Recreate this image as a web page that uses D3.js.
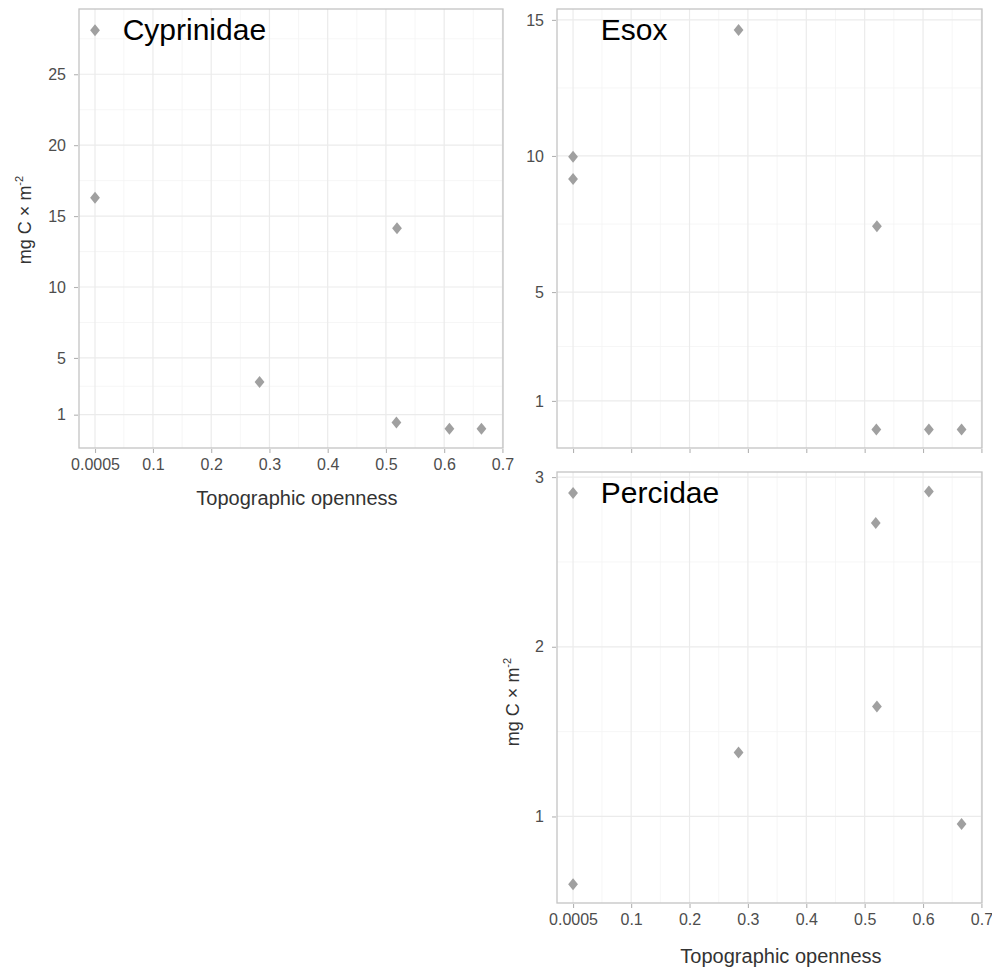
<!DOCTYPE html>
<html>
<head>
<meta charset="utf-8">
<script src="https://cdn.jsdelivr.net/npm/d3@7"></script>
<style>
  body { margin: 0; background: #fff; }
  svg { font-family: "Liberation Sans", Arial, sans-serif; }
</style>
</head>
<body>
<svg id="chart" width="992" height="971"></svg>
<script>
// data
var xTicks = [0.0005, 0.1, 0.2, 0.3, 0.4, 0.5, 0.6, 0.7];
var xMinor = [0.05, 0.15, 0.25, 0.35, 0.45, 0.55, 0.65];

var cypX = [0.0005, 0.0005, 0.283, 0.519, 0.518, 0.609, 0.664];
var cypY = [28.1, 16.3, 3.3, 14.15, 0.45, 0.0, 0.0];
var cypTicks = [1, 5, 10, 15, 20, 25];
var cypMinor = [3, 7.5, 12.5, 17.5, 22.5, 27.5];

var esoxX = [0.0005, 0.0005, 0.284, 0.521, 0.52, 0.61, 0.666];
var esoxY = [9.97, 9.15, 14.63, 7.42, -0.05, -0.05, -0.05];
var esoxTicks = [1, 5, 10, 15];
var esoxMinor = [3, 7.5, 12.5];

var percX = [0.0005, 0.0005, 0.284, 0.519, 0.521, 0.61, 0.666];
var percY = [2.906, 0.60, 1.377, 2.73, 1.648, 2.915, 0.955];
var percTicks = [1, 2, 3];
var percMinor = [1.5, 2.5];

var svg = d3.select('#chart');

// builds one facet panel
function drawPanel(opt) {
    var x = d3.scaleLinear().domain([-0.027, 0.701]).range([opt.left, opt.right]);
    var y = d3.scaleLinear().domain(opt.yDomain).range([opt.bottom, opt.top]);
    var g = svg.append('g');

    // grid lines, minor first
    g.selectAll('.xminor').data(xMinor).enter().append('line')
        .attr('x1', function (d) { return x(d); }).attr('x2', function (d) { return x(d); })
        .attr('y1', opt.top).attr('y2', opt.bottom)
        .attr('stroke', '#f4f4f4').attr('stroke-width', 0.8);
    g.selectAll('.yminor').data(opt.yMinor).enter().append('line')
        .attr('y1', function (d) { return y(d); }).attr('y2', function (d) { return y(d); })
        .attr('x1', opt.left).attr('x2', opt.right)
        .attr('stroke', '#f4f4f4').attr('stroke-width', 0.8);
    g.selectAll('.xmajor').data(xTicks).enter().append('line')
        .attr('x1', function (d) { return x(d); }).attr('x2', function (d) { return x(d); })
        .attr('y1', opt.top).attr('y2', opt.bottom)
        .attr('stroke', '#ebebeb').attr('stroke-width', 1.2);
    g.selectAll('.ymajor').data(opt.yTicks).enter().append('line')
        .attr('y1', function (d) { return y(d); }).attr('y2', function (d) { return y(d); })
        .attr('x1', opt.left).attr('x2', opt.right)
        .attr('stroke', '#ebebeb').attr('stroke-width', 1.2);

    // panel border
    g.append('rect')
        .attr('x', opt.left).attr('y', opt.top)
        .attr('width', opt.right - opt.left).attr('height', opt.bottom - opt.top)
        .attr('fill', 'none').attr('stroke', '#c4c4c4').attr('stroke-width', 1.3);

    // axes
    var fmt = function (d) { return String(d); };
    var xAxis = d3.axisBottom(x).tickValues(xTicks).tickSize(4).tickPadding(6)
        .tickFormat(opt.xLabels ? fmt : '');
    var ax = g.append('g').attr('transform', 'translate(0,' + (opt.bottom + 1) + ')').call(xAxis);
    var yAxis = d3.axisLeft(y).tickValues(opt.yTicks).tickSize(4).tickPadding(8).tickFormat(fmt);
    var ay = g.append('g').attr('transform', 'translate(' + (opt.left - 1) + ',0)').call(yAxis);
    [ax, ay].forEach(function (a) {
        a.select('.domain').remove();
        a.selectAll('.tick line').attr('stroke', '#b3b3b3').attr('stroke-width', 1.1);
        a.selectAll('.tick text').attr('fill', '#4d4d4d').style('font-size', '16px')
            .style('font-family', '"Liberation Sans", Arial, sans-serif');
    });

    // points (diamonds)
    var diamond = 'M0,-6L4.9,0L0,6L-4.9,0Z';
    g.selectAll('.pt').data(opt.xs).enter().append('path')
        .attr('d', diamond)
        .attr('transform', function (d, i) { return 'translate(' + x(d) + ',' + y(opt.ys[i]) + ')'; })
        .attr('fill', '#a0a0a0');

    // facet label inside panel
    g.append('text')
        .attr('x', x(0.048)).attr('y', opt.top + 31)
        .attr('font-size', 30).attr('fill', '#000')
        .text(opt.name);

    if (opt.xTitle) {
        g.append('text')
            .attr('x', opt.xTitle[0]).attr('y', opt.xTitle[1])
            .attr('text-anchor', 'middle').attr('font-size', 20).attr('fill', '#333')
            .text('Topographic openness');
    }
    if (opt.yTitle) {
        var t = g.append('text')
            .attr('transform', 'translate(' + opt.yTitle[0] + ',' + opt.yTitle[1] + ') rotate(-90)')
            .attr('text-anchor', 'middle').attr('font-size', 18).attr('fill', '#333');
        t.append('tspan').text('mg C \u00d7 m');
        t.append('tspan').attr('font-size', 11).attr('dy', -8).text('-2');
    }
}

drawPanel({
    name: 'Cyprinidae', left: 79, right: 503, top: 9, bottom: 448,
    yDomain: [-1.35, 29.6], yTicks: cypTicks, yMinor: cypMinor,
    xs: cypX, ys: cypY, xLabels: true,
    xTitle: [297, 505], yTitle: [31, 220]
});
drawPanel({
    name: 'Esox', left: 557, right: 982, top: 9, bottom: 448,
    yDomain: [-0.73, 15.4], yTicks: esoxTicks, yMinor: esoxMinor,
    xs: esoxX, ys: esoxY, xLabels: false
});
drawPanel({
    name: 'Percidae', left: 557, right: 982, top: 472, bottom: 903,
    yDomain: [0.49, 3.03], yTicks: percTicks, yMinor: percMinor,
    xs: percX, ys: percY, xLabels: true,
    xTitle: [781, 963], yTitle: [519, 702]
});
</script>
</body>
</html>
